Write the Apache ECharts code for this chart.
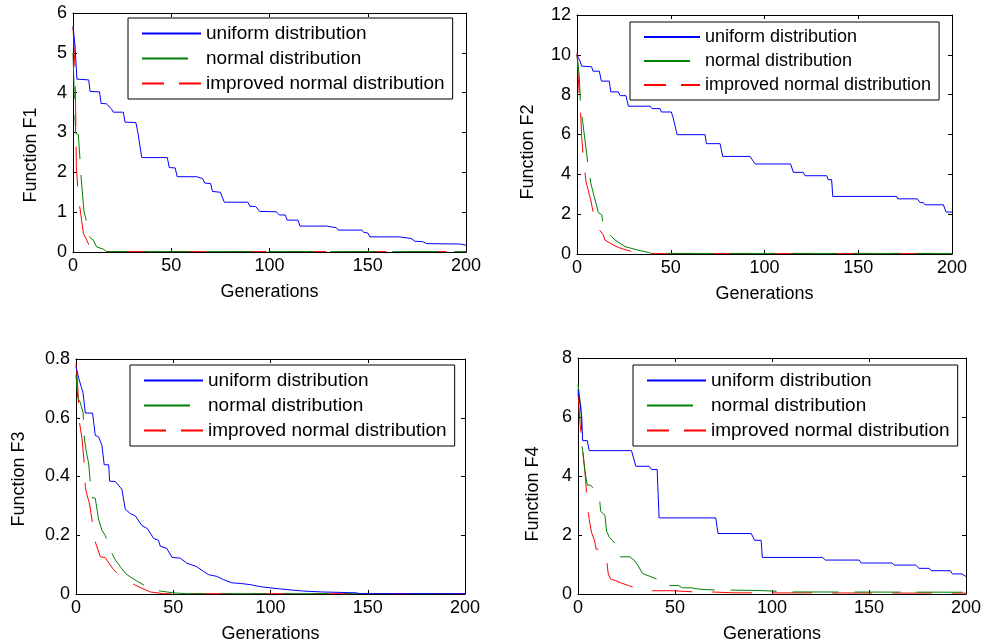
<!DOCTYPE html>
<html>
<head>
<meta charset="utf-8">
<script src="https://cdn.jsdelivr.net/npm/echarts@6/dist/echarts.min.js"></script>
<style>html,body{margin:0;padding:0;background:#fff}#c{width:984px;height:644px}</style>
</head>
<body>
<div id="c"></div>
<script>
// ---- data ----
const seriesNames = ['uniform distribution', 'normal distribution', 'improved normal distribution'];
const xTicks = [0, 50, 100, 150, 200];
const yLabels = ['Function F1', 'Function F2', 'Function F3', 'Function F4'];
const xLabel = 'Generations';
const yMax = [6, 12, 0.8, 8];
const yStep = [1, 2, 0.2, 2];

const f1Uniform = [[0,5.66],[1,5.2],[2,4.34],[8,4.32],[8.7,4.03],[13.5,4.02],[14.3,3.73],[17,3.72],[18,3.7],[19.5,3.6],[20.5,3.51],[25.6,3.51],[26.5,3.26],[32,3.25],[33,3.0],[35,2.37],[48,2.37],[49,2.12],[52,2.11],[53,1.89],[63,1.89],[64,1.84],[66,1.84],[67,1.73],[70,1.72],[71,1.52],[75,1.5],[77,1.25],[89,1.25],[90,1.15],[93,1.14],[95,1.02],[103.5,1.01],[105,0.93],[108,0.93],[109,0.80],[114.5,0.80],[115.5,0.65],[129,0.65],[130,0.61],[134,0.61],[135,0.55],[147,0.55],[148,0.49],[150,0.48],[151,0.38],[166,0.38],[167,0.34],[172,0.34],[174,0.27],[178,0.26],[180,0.21],[197,0.20],[198,0.17],[200,0.17]];
const f1Normal = [[0,5.0],[0.5,4.2],[1,3.4],[1.4,2.98],[2.7,2.95],[3.6,2.31],[4.1,1.89],[5.6,1.01],[6.5,0.85],[7.3,0.8],[8.3,0.38],[10.3,0.3],[12,0.13],[15.4,0.07],[17,0.01],[40,0.01],[200,0.01]];
const f1Improved = [[0,5.66],[1,4.65],[1.4,3.4],[1.7,2.14],[2.7,1.39],[3.9,0.97],[5.3,0.47],[8.6,0.13],[12,0.03],[15,0.01],[200,0.01]];

const f2Uniform = [[0,10.0],[1,9.9],[1.6,9.68],[2.5,9.43],[7.8,9.4],[8.5,9.18],[11.9,9.18],[13,8.68],[17.2,8.68],[18,8.14],[22,8.14],[23,7.95],[26.1,7.95],[27.4,7.42],[39,7.42],[40,7.3],[44.3,7.3],[45,7.13],[50.3,7.13],[51.3,6.83],[52.3,6.83],[53.4,5.99],[68.3,5.99],[69,5.54],[76.3,5.54],[77.7,4.90],[92.3,4.9],[95,4.52],[113.9,4.52],[115.4,4.10],[120.7,4.1],[121.6,3.93],[133.2,3.93],[134,3.73],[135.8,3.73],[136.4,2.89],[170.5,2.89],[171,2.77],[181.5,2.77],[183,2.58],[184.7,2.58],[185.6,2.47],[195.4,2.47],[196.8,2.11],[200,2.1]];
const f2Normal = [[0,10.0],[0.6,9.5],[1.2,8.93],[1.9,7.42],[3,6.66],[6,4.4],[7.3,3.59],[8.7,3.05],[11.4,2.08],[13.2,1.96],[14,1.46],[16,1.1],[18.5,0.87],[20.3,0.7],[25.6,0.37],[33.6,0.17],[38,0.08],[40,0.03],[200,0.03]];
const f2Improved = [[0,10.1],[1.2,7.92],[1.9,7.1],[2.5,5.91],[3.4,4.73],[4.8,3.64],[7.3,2.72],[9.6,1.63],[12,1.2],[14,0.96],[14.9,0.7],[19.4,0.45],[22,0.33],[30,0.1],[34.5,0.05],[40,0.02],[200,0.02]];

const f3Uniform = [[0,0.774],[1.4,0.735],[2.6,0.707],[3.6,0.685],[4.8,0.616],[8.5,0.616],[9.9,0.54],[11.6,0.535],[13.3,0.507],[14.5,0.44],[16.8,0.44],[17.3,0.384],[20.2,0.383],[23.6,0.356],[25.3,0.289],[27.9,0.274],[30.5,0.266],[33.9,0.233],[36.8,0.222],[39.9,0.189],[42.4,0.183],[43.3,0.163],[46.7,0.155],[49.3,0.125],[53.6,0.122],[57,0.105],[62.1,0.093],[65.5,0.077],[68.1,0.066],[72.4,0.06],[75.8,0.049],[80.1,0.038],[84.4,0.036],[89.5,0.032],[94.7,0.025],[99.8,0.021],[108.4,0.015],[117,0.01],[126.4,0.007],[144,0.004],[146,0.001],[200,0.001]];
const f3Normal = [[0,0.746],[0.9,0.668],[2.2,0.652],[3.6,0.618],[3.9,0.59],[4.3,0.529],[5.3,0.484],[6.5,0.445],[7.3,0.384],[8.2,0.328],[9.9,0.326],[11.6,0.255],[13.3,0.217],[15,0.2],[16.3,0.175],[17.6,0.15],[20.2,0.116],[22.8,0.093],[25.3,0.071],[27.9,0.058],[31.3,0.044],[35,0.03],[38.2,0.021],[43.3,0.01],[50.1,0.004],[57,0.001],[200,0.001]];
const f3Improved = [[0,0.786],[0.9,0.707],[1.4,0.64],[1.9,0.579],[3.1,0.529],[4.3,0.44],[4.8,0.362],[5.6,0.339],[7,0.306],[8.5,0.24],[9.9,0.177],[10.8,0.16],[12.5,0.127],[15,0.124],[19.3,0.083],[21.9,0.066],[25,0.05],[28.7,0.036],[33,0.022],[38.2,0.007],[45,0.001],[200,0.001]];

const f4Uniform = [[0,6.93],[1.9,6.04],[2.4,5.2],[4.8,5.2],[5.8,4.86],[27.6,4.86],[29.8,4.33],[36.7,4.33],[37.9,4.22],[40.8,4.22],[41.8,2.58],[71,2.58],[72.2,2.05],[89.3,2.05],[91,1.82],[94.4,1.82],[95,1.24],[126.1,1.24],[127.5,1.15],[145,1.15],[146,1.05],[162,1.05],[163,0.98],[174.1,0.98],[175.8,0.87],[180.9,0.87],[182.3,0.79],[192,0.79],[193,0.68],[198,0.68],[200,0.59]];
const f4Normal = [[0,7.1],[1,7.1],[1.5,6.33],[2.1,5.03],[3.6,4.14],[4.8,3.69],[6.5,3.69],[9,3.5],[11,3.3],[11.7,2.8],[13.9,2.67],[14.7,2.13],[15.6,2.1],[16.1,1.93],[18,1.8],[20.2,1.6],[21.1,1.26],[26.8,1.26],[29.3,1.12],[31,0.96],[33.2,0.7],[37,0.6],[40.4,0.51],[43,0.5],[45.2,0.29],[51.6,0.29],[53.8,0.21],[58.4,0.21],[61,0.18],[65,0.15],[69.6,0.14],[92.7,0.12],[100.4,0.1],[106.4,0.07],[200,0.06]];
const f4Improved = [[0,6.82],[1,5.81],[2.4,4.92],[3.6,4.14],[4.2,3.6],[4.8,3.02],[5.8,2.52],[7,2.08],[7.9,2.02],[8.6,1.8],[9.3,1.52],[13.4,1.52],[14.4,1.35],[15.6,0.68],[16.8,0.51],[19.5,0.45],[22,0.38],[25.9,0.29],[29.3,0.21],[33,0.15],[37.9,0.11],[47.3,0.11],[49,0.11],[60,0.07],[69.6,0.067],[80,0.04],[200,0.03]];

const panelData = [
  [f1Uniform, f1Normal, f1Improved],
  [f2Uniform, f2Normal, f2Improved],
  [f3Uniform, f3Normal, f3Improved],
  [f4Uniform, f4Normal, f4Improved]
];

// ---- layout / style ----
const FONT = 'Liberation Sans, Arial, sans-serif';
const grids = [
  {left: 73, top: 13, width: 393, height: 239},
  {left: 577, top: 15, width: 375, height: 239},
  {left: 76, top: 359, width: 389, height: 239},
  {left: 578, top: 358, width: 389, height: 239}
];
const legendPos = [
  {left: 128, top: 18},
  {left: 630, top: 22},
  {left: 130, top: 365},
  {left: 633, top: 365}
];
const legendFont = [19, 18, 19, 19];
const legendIconW = [59, 56, 59, 59];
// y-axis title centre positions (px)
const yNamePos = [[31, 155], [528, 152], [19, 479], [533, 494]];
const colors = ['#0000ff', '#008000', '#ff0000'];
const seriesDash = ['solid', [46, 16], [40, 20]];
const legendDash = ['solid', [46, 14], [22, 15]];

const xAxes = [], yAxes = [], series = [], legends = [], graphics = [];
grids.forEach((g, i) => {
  const tickStyle = {show: true, inside: true, length: 4, lineStyle: {color: '#000', width: 1}};
  const lineSt = {show: true, onZero: false, lineStyle: {color: '#000', width: 1}};
  const nameStyle = {color: '#000', fontFamily: FONT, fontSize: 18};
  xAxes.push({
    gridIndex: i, type: 'value', min: 0, max: 200, interval: 50, position: 'bottom',
    axisLine: lineSt, axisTick: tickStyle, splitLine: {show: false},
    axisLabel: {color: '#000', fontFamily: FONT, fontSize: 18, margin: 5},
    name: xLabel, nameLocation: 'middle', nameGap: 31,
    nameTextStyle: nameStyle
  });
  xAxes.push({
    gridIndex: i, type: 'value', min: 0, max: 200, interval: 50, position: 'top',
    axisLine: lineSt, axisTick: tickStyle, splitLine: {show: false}, axisLabel: {show: false}
  });
  yAxes.push({
    gridIndex: i, type: 'value', min: 0, max: yMax[i], interval: yStep[i], position: 'left',
    axisLine: lineSt, axisTick: tickStyle, splitLine: {show: false},
    axisLabel: {color: '#000', fontFamily: FONT, fontSize: 18, margin: 6}
  });
  yAxes.push({
    gridIndex: i, type: 'value', min: 0, max: yMax[i], interval: yStep[i], position: 'right',
    axisLine: lineSt, axisTick: tickStyle, splitLine: {show: false}, axisLabel: {show: false}
  });
  graphics.push({
    type: 'text', x: yNamePos[i][0], y: yNamePos[i][1], rotation: Math.PI / 2, silent: true,
    style: {text: yLabels[i], fill: '#000', font: '18px ' + FONT, textAlign: 'center', textVerticalAlign: 'middle'}
  });
  panelData[i].forEach((d, k) => {
    series.push({
      type: 'line', name: seriesNames[k], xAxisIndex: 2 * i, yAxisIndex: 2 * i,
      data: d, symbol: 'none', showSymbol: false, animation: false, silent: true,
      lineStyle: {color: colors[k], width: 1, type: seriesDash[k]},
      itemStyle: {color: colors[k]}, z: 5 - k
    });
  });
  legends.push({
    left: legendPos[i].left, top: legendPos[i].top, orient: 'vertical',
    backgroundColor: '#fff', borderColor: '#000', borderWidth: 1,
    padding: [6, 8, 6, 13], itemGap: 6, itemWidth: legendIconW[i], itemHeight: legendFont[i],
    selectedMode: false,
    itemStyle: {opacity: 0},
    textStyle: {color: '#000', fontFamily: FONT, fontSize: legendFont[i], lineHeight: legendFont[i]},
    data: seriesNames.map((n, k) => ({
      name: n,
      lineStyle: {type: legendDash[k]}
    }))
  });
});

const chart = echarts.init(document.getElementById('c'), null, {renderer: 'canvas'});
chart.setOption({
  backgroundColor: '#fff',
  animation: false,
  textStyle: {fontFamily: FONT},
  grid: grids,
  xAxis: xAxes,
  yAxis: yAxes,
  legend: legends,
  graphic: graphics,
  series: series
});
</script>
</body>
</html>
